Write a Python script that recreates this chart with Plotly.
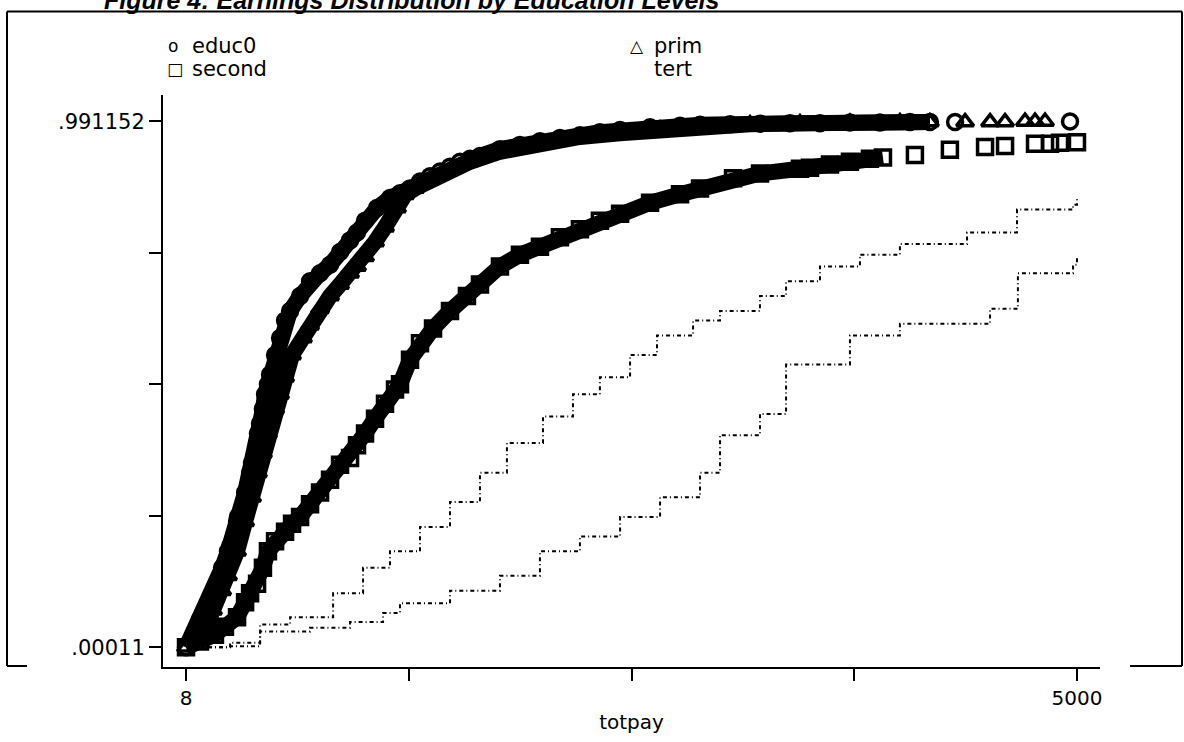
import plotly.graph_objects as go

# ---- data (totpay vs cumulative share) ----
educ0_x = [8, 86, 114, 142, 159, 182, 210, 243, 255, 294, 299, 339, 367, 378, 406, 411, 423, 439, 451, 467,
           479, 507, 535, 563, 591, 647, 703, 759, 815, 871, 927, 966, 1011, 1078, 1151, 1207, 1263, 1319, 1375, 1431,
           1487, 1543, 1599, 1655, 1767, 1879, 1991, 2103, 2215, 2327, 2440, 2608, 2776, 2888, 3056, 3224, 3392, 3560, 3728, 3896,
           4064, 4176, 4317, 4961]
educ0_y = [0.0001, 0.052, 0.070, 0.089, 0.102, 0.120, 0.150, 0.181, 0.191, 0.237, 0.246, 0.292, 0.329, 0.348, 0.385, 0.403, 0.422, 0.449, 0.477, 0.496,
           0.514, 0.551, 0.583, 0.616, 0.634, 0.662, 0.690, 0.705, 0.721, 0.745, 0.767, 0.782, 0.804, 0.828, 0.847, 0.856, 0.865, 0.878, 0.888, 0.897,
           0.906, 0.915, 0.921, 0.926, 0.939, 0.947, 0.954, 0.960, 0.965, 0.971, 0.975, 0.980, 0.983, 0.985, 0.986, 0.987, 0.988, 0.988, 0.989, 0.989,
           0.990, 0.990, 0.990, 0.991152]

prim_x = [8, 114, 159, 210, 243, 294, 339, 378, 411, 439, 467, 479, 507, 535, 563, 602, 663, 703, 759, 815,
          871, 927, 966, 1011, 1067, 1123, 1190, 1235, 1291, 1375, 1487, 1599, 1767, 1991, 2215, 2440, 2664, 2888, 3168, 3448,
          3728, 4008, 4176, 4373, 4513, 4597, 4709, 4765, 4821]
prim_y = [0.0001, 0.033, 0.070, 0.107, 0.135, 0.181, 0.237, 0.283, 0.329, 0.366, 0.403, 0.422, 0.449, 0.477, 0.509, 0.551, 0.583, 0.607, 0.638, 0.662,
          0.684, 0.705, 0.718, 0.736, 0.764, 0.792, 0.828, 0.853, 0.865, 0.880, 0.899, 0.915, 0.934, 0.950, 0.962, 0.969, 0.976, 0.982, 0.986, 0.988,
          0.989, 0.990, 0.990, 0.990, 0.990, 0.990, 0.991, 0.991, 0.991]

second_x = [8, 86, 170, 226, 294, 339, 367, 406, 439, 467, 507, 563, 602, 647, 703, 759, 815, 871, 927, 966,
            1011, 1067, 1123, 1179, 1207, 1263, 1319, 1392, 1487, 1582, 1655, 1767, 1879, 1991, 2103, 2215, 2327, 2440, 2608, 2776,
            2888, 3073, 3224, 3448, 3504, 3616, 3728, 3840, 3913, 4092, 4288, 4485, 4597, 4765, 4849, 4905, 5000]
second_y = [0.0001, 0.011, 0.024, 0.039, 0.057, 0.085, 0.102, 0.120, 0.150, 0.181, 0.200, 0.218, 0.233, 0.246, 0.270, 0.292, 0.316, 0.344, 0.357, 0.381,
            0.403, 0.431, 0.459, 0.486, 0.496, 0.542, 0.573, 0.601, 0.634, 0.662, 0.684, 0.718, 0.740, 0.755, 0.773, 0.788, 0.804, 0.817, 0.838, 0.854,
            0.865, 0.884, 0.893, 0.902, 0.904, 0.910, 0.915, 0.921, 0.923, 0.928, 0.938, 0.943, 0.945, 0.949, 0.949, 0.951, 0.952]

tert_x = [8, 255, 423, 591, 832, 1000, 1151, 1319, 1487, 1655, 1806, 2008, 2176, 2327, 2496, 2647, 2849, 3000, 3224, 3370,
          3560, 3784, 4008, 4384, 4664, 4978, 5000]
tert_y = [0.0001, 0.009, 0.043, 0.057, 0.102, 0.150, 0.181, 0.227, 0.274, 0.329, 0.385, 0.435, 0.477, 0.509, 0.551, 0.588, 0.616, 0.634, 0.662, 0.690,
          0.718, 0.740, 0.760, 0.782, 0.825, 0.834, 0.847]

other_x = [8, 238, 423, 703, 927, 1112, 1207, 1487, 1767, 1991, 2215, 2440, 2664, 2888, 3000, 3224, 3370, 3728, 4008, 4513,
           4669, 4978, 5000]
other_y = [0.0001, 0.002, 0.030, 0.037, 0.048, 0.065, 0.083, 0.107, 0.135, 0.181, 0.209, 0.246, 0.283, 0.329, 0.400, 0.440, 0.533, 0.588, 0.610, 0.638,
           0.705, 0.721, 0.736]

x_ticks = [8, 1256, 2504, 3752, 5000]
x_ticktext = ["8", "", "", "", "5000"]
y_ticks = [0.00011, 0.24787, 0.49563, 0.74339, 0.991152]
y_ticktext = [".00011", "", "", "", ".991152"]

FONT = "DejaVu Sans"

# plot-area geometry in pixels (used only to place frame/legend in paper coords)
W, H = 1184, 742
L, R, T, B = 163, 84, 95, 64
PW, PH = W - L - R, H - T - B


def px(xp):
    return (xp - L) / PW


def py(yp):
    return (H - B - yp) / PH


fig = go.Figure()

# solid bands under the marker curves (dense part)
for xs, ys, cut in [(educ0_x, educ0_y, 4176), (prim_x, prim_y, 4176), (second_x, second_y, 3913)]:
    xx = [a for a in xs if a <= cut]
    yy = ys[:len(xx)]
    fig.add_trace(go.Scatter(x=xx, y=yy, mode="lines", line=dict(color="black", width=16),
                             hoverinfo="skip", showlegend=False))

for xs, ys, sym in [(educ0_x, educ0_y, "circle-open"), (prim_x, prim_y, "triangle-up-open"),
                    (second_x, second_y, "square-open")]:
    fig.add_trace(go.Scatter(x=xs, y=ys, mode="markers",
                             marker=dict(symbol=sym, size=15, color="black", line=dict(color="black", width=3.5)),
                             showlegend=False))

fig.add_trace(go.Scatter(x=tert_x, y=tert_y, mode="lines", line_shape="hv",
                         line=dict(color="black", width=2, dash="4px,3px,1px,3px"), showlegend=False))
fig.add_trace(go.Scatter(x=other_x, y=other_y, mode="lines", line_shape="hv",
                         line=dict(color="black", width=2, dash="4px,3px,1px,3px"), showlegend=False))

fig.update_xaxes(range=[-121, 5129], tickvals=x_ticks, ticktext=x_ticktext, ticks="outside", ticklen=12,
                 tickwidth=2, tickcolor="black", showline=True, linewidth=2, linecolor="black",
                 showgrid=False, zeroline=False, tickfont=dict(family=FONT, size=20, color="black"),
                 title=dict(text="totpay", font=dict(family=FONT, size=20, color="black"), standoff=6))
fig.update_yaxes(range=[-0.0369, 1.041], tickvals=y_ticks, ticktext=y_ticktext, ticks="outside", ticklen=12,
                 tickwidth=2, tickcolor="black", showline=True, linewidth=2, linecolor="black",
                 showgrid=False, zeroline=False, tickfont=dict(family=FONT, size=21, color="black"))

# outer frame of the scanned figure
frame = [
    (7, 10, 1182, 10), (7, 10, 7, 677), (7, 677, 27, 677),
    (1182, 10, 1182, 677), (1130, 677, 1182, 677),
]
for x0, y0, x1, y1 in frame:
    fig.add_shape(type="line", xref="paper", yref="paper", x0=px(x0), y0=py(y0), x1=px(x1), y1=py(y1),
                  line=dict(color="black", width=2))

ann = []
# title, cut off at the very top as in the scanned source
ann.append(dict(text="<b><i>Figure 4: Earnings Distribution by Education Levels</i></b>", x=px(102), y=py(14),
                xanchor="left", yanchor="bottom", font=dict(family="Liberation Sans", size=25, color="black")))
# legend
for sym, lab, xs, xl, yv in [("o", "educ0", 166, 190, 45), ("\u25a1", "second", 165, 190, 68),
                             ("\u25b3", "prim", 628, 652, 45), ("", "tert", 628, 652, 68)]:
    if sym:
        ann.append(dict(text=sym, x=px(xs), y=py(yv), xanchor="left", yanchor="middle",
                        font=dict(family=FONT, size=17, color="black")))
    ann.append(dict(text=lab, x=px(xl), y=py(yv), xanchor="left", yanchor="middle",
                    font=dict(family=FONT, size=21, color="black")))
for a in ann:
    a.update(xref="paper", yref="paper", showarrow=False)
fig.update_layout(annotations=ann)

fig.update_layout(width=W, height=H, margin=dict(l=L, r=R, t=T, b=B),
                  plot_bgcolor="white", paper_bgcolor="white")

fig.write_html("out.html")
